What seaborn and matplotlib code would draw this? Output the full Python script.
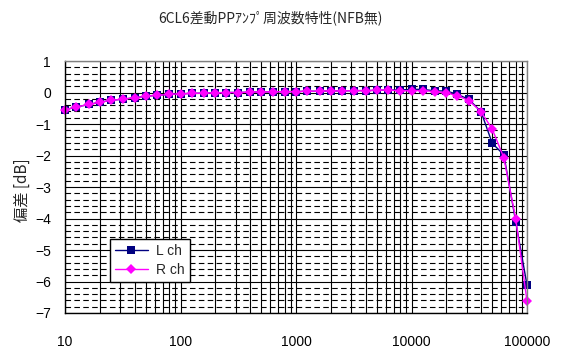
import matplotlib
matplotlib.use("Agg")
import matplotlib.pyplot as plt
import matplotlib.ticker as mticker
import numpy as np
import pandas as pd
import seaborn as sns

freqs = [10, 12.5, 16, 20, 25, 31.5, 40, 50, 63, 80,
         100, 125, 160, 200, 250, 315, 400, 500, 630, 800,
         1000, 1250, 1600, 2000, 2500, 3150, 4000, 5000, 6300, 8000,
         10000, 12500, 16000, 20000, 25000, 31500, 40000, 50000, 63000, 80000,
         100000]
l_ch = [-0.55, -0.46, -0.38, -0.31, -0.25, -0.21, -0.17, -0.12, -0.09, -0.06,
        -0.04, -0.03, -0.02, -0.01, 0.00, 0.00, 0.01, 0.02, 0.02, 0.03,
        0.03, 0.04, 0.04, 0.05, 0.05, 0.06, 0.06, 0.07, 0.08, 0.08,
        0.10, 0.10, 0.05, 0.05, -0.06, -0.22, -0.61, -1.61, -1.98, -4.12,
        -6.11]
r_ch = [-0.55, -0.46, -0.38, -0.31, -0.25, -0.21, -0.17, -0.12, -0.09, -0.06,
        -0.04, -0.03, -0.02, -0.01, 0.00, 0.00, 0.01, 0.02, 0.02, 0.03,
        0.03, 0.04, 0.04, 0.05, 0.05, 0.06, 0.06, 0.07, 0.08, 0.05,
        0.06, 0.06, 0.03, -0.01, -0.10, -0.26, -0.61, -1.16, -2.07, -4.03,
        -6.62]
series_names = ["L ch", "R ch"]
x_ticks = [10, 100, 1000, 10000, 100000]
x_tick_labels = ["10", "100", "1000", "10000", "100000"]
y_ticks = [1, 0, -1, -2, -3, -4, -5, -6, -7]
title = "6CL6差動PPｱﾝﾌﾟ周波数特性(NFB無)"
ylabel = "偏差 [dB]"

df = pd.DataFrame({
    "freq": freqs * 2,
    "dB": l_ch + r_ch,
    "ch": [series_names[0]] * len(freqs) + [series_names[1]] * len(freqs),
})

sns.set_style("white")
plt.rcParams["font.family"] = ["Liberation Sans", "DejaVu Sans"]

fig = plt.figure(figsize=(5.67, 3.59), dpi=100)
fig.patch.set_facecolor("white")
ax = fig.add_axes([65 / 567, 1 - 313 / 359, 462 / 567, 252 / 359])

sns.lineplot(data=df, x="freq", y="dB", hue="ch", style="ch",
             palette={"L ch": "#000080", "R ch": "#FF00FF"},
             markers={"L ch": "s", "R ch": "D"}, dashes=False,
             markersize=5.5, markeredgewidth=0, linewidth=1.0,
             ax=ax, legend=True, sort=False)
for line in ax.get_lines():
    line.set_clip_on(False)
    if line.get_marker() == "D":
        line.set_markersize(5.0)

ax.set_xscale("log")
ax.set_xlim(10, 100000)
ax.set_ylim(-7, 1)
ax.set_xticks(x_ticks)
ax.set_xticklabels(x_tick_labels)
ax.xaxis.set_minor_locator(mticker.LogLocator(base=10, subs=np.arange(2, 10)))
ax.xaxis.set_minor_formatter(mticker.NullFormatter())
ax.set_yticks(y_ticks)
ax.set_yticklabels([str(v).replace("-", "\u2212") for v in y_ticks])
ax.yaxis.set_minor_locator(mticker.MultipleLocator(0.2))

ax.tick_params(axis="both", which="both", length=0, labelsize=10, colors="black")
ax.tick_params(axis="x", pad=16)
ax.tick_params(axis="y", pad=10)

ax.set_axisbelow(True)
ax.grid(which="major", axis="both", color="black", linewidth=0.8, linestyle="-")
ax.grid(which="minor", axis="x", color="black", linewidth=0.8, linestyle="-")
ax.grid(which="minor", axis="y", color="black", linewidth=0.8, linestyle=(0, (5, 3)))

for side in ["left", "bottom"]:
    ax.spines[side].set_color("black")
    ax.spines[side].set_linewidth(1.0)
for side in ["top", "right"]:
    ax.spines[side].set_color("#808080")
    ax.spines[side].set_linewidth(1.0)
for s in ax.spines.values():
    s.set_visible(True)

ax.set_xlabel("")
ax.set_ylabel("")

fig.text(22 / 567, 1 - 190 / 359, ylabel, rotation=90, ha="center", va="center",
         fontsize=11, family=["Noto Sans CJK JP", "DejaVu Sans"])
fig.text(270 / 567, 1 - 18 / 359, title, ha="center", va="center",
         fontsize=10, family=["Noto Sans CJK JP", "DejaVu Sans"])

leg = ax.legend(loc="lower left", bbox_to_anchor=(0.097, 0.123), borderaxespad=0,
                fancybox=False, edgecolor="black", framealpha=1, fontsize=10,
                handlelength=2.4, borderpad=0.35, labelspacing=0.4, handletextpad=0.6)
leg.get_frame().set_linewidth(1.0)
leg.set_zorder(5)

fig.savefig("out.png", dpi=100, facecolor="white")
